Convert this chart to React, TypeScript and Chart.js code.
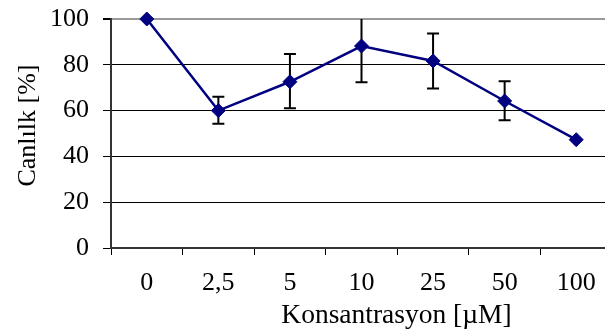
import React, { useEffect, useRef } from "react";
import { Chart, registerables } from "chart.js";

Chart.register(...registerables);

const categories = ["0", "2,5", "5", "10", "25", "50", "100"];
const viability = [100, 60, 72.6, 88.2, 81.7, 64.2, 47.3];
const errLow = [100, 54.3, 61, 72.4, 69.7, 55.8, 46.6];
const errHigh = [100, 66, 84.7, 103, 93.7, 72.8, 48];
const yTicks = [0, 20, 40, 60, 80, 100];
const xTitle = "Konsantrasyon [µM]";
const yTitle = "Canlılk [%]";

const FONT = "Liberation Serif";
Chart.defaults.font.family = FONT;

const errorBars = {
  id: "errorBars",
  beforeDatasetsDraw(chart: any) {
    const { ctx, chartArea, scales } = chart;
    const xs = scales.x;
    const ys = scales.y;
    ctx.save();
    ctx.beginPath();
    ctx.rect(chartArea.left, chartArea.top, chartArea.right - chartArea.left, chartArea.bottom - chartArea.top);
    ctx.clip();
    ctx.strokeStyle = "#000";
    ctx.lineWidth = 2;
    const cap = 6;
    for (let i = 0; i < categories.length; i++) {
      if (errHigh[i] - errLow[i] < 2) continue;
      const x = xs.getPixelForValue(i);
      const yt = ys.getPixelForValue(errHigh[i]);
      const yb = ys.getPixelForValue(errLow[i]);
      ctx.beginPath();
      ctx.moveTo(x, yt);
      ctx.lineTo(x, yb);
      ctx.moveTo(x - cap, yt);
      ctx.lineTo(x + cap, yt);
      ctx.moveTo(x - cap, yb);
      ctx.lineTo(x + cap, yb);
      ctx.stroke();
    }
    ctx.restore();
  },
};

const axisTitles = {
  id: "axisTitles",
  afterDraw(chart: any) {
    const { ctx, chartArea } = chart;
    ctx.save();
    ctx.fillStyle = "#000";
    ctx.textAlign = "center";
    ctx.textBaseline = "middle";
    ctx.font = `27.5px ${FONT}`;
    ctx.fillText(xTitle, (chartArea.left + chartArea.right) / 2 + 35, 316);
    ctx.translate(28, (chartArea.top + chartArea.bottom) / 2 - 8);
    ctx.rotate(-Math.PI / 2);
    ctx.font = `26px ${FONT}`;
    ctx.fillText(yTitle, 0, 0);
    ctx.restore();
  },
};

export default function App() {
  const ref = useRef<HTMLCanvasElement | null>(null);
  useEffect(() => {
    if (!ref.current) return;
    const chart = new Chart(ref.current, {
      type: "line",
      data: {
        labels: categories,
        datasets: [
          {
            data: viability,
            borderColor: "#000080",
            backgroundColor: "#000080",
            borderWidth: 2.5,
            pointStyle: "rectRot",
            pointRadius: 7,
            pointBorderWidth: 1,
            pointBorderColor: "#000080",
            pointBackgroundColor: "#000080",
            tension: 0,
            clip: false as any,
          },
        ],
      },
      options: {
        animation: false,
        responsive: false,
        maintainAspectRatio: false,
        layout: { padding: { top: 19, right: 6, left: 0, bottom: 0 } },
        plugins: { legend: { display: false }, tooltip: { enabled: false } },
        scales: {
          x: {
            type: "category",
            offset: true,
            grid: {
              display: true,
              drawOnChartArea: false,
              offset: true,
              tickLength: 7,
              color: "#000",
              lineWidth: 1,
            },
            border: { display: true, color: "#333", width: 2 },
            ticks: {
              color: "#000",
              font: { family: FONT, size: 26 },
              padding: 13,
              maxRotation: 0,
              autoSkip: false,
            },
            afterFit(scale: any) {
              scale.height = 88;
              scale.paddingLeft = 0;
              scale.paddingRight = 0;
            },
          },
          y: {
            min: 0,
            max: 100,
            afterBuildTicks(scale: any) {
              scale.ticks = yTicks.map((v) => ({ value: v }));
            },
            grid: {
              color: (c: any) => (c.tick && c.tick.value === 100 ? "#999" : "#000"),
              lineWidth: (c: any) => (c.tick && c.tick.value === 100 ? 2 : 1),
              tickLength: 8,
              tickColor: "#000",
            },
            border: { display: true, color: "#333", width: 2 },
            ticks: {
              color: "#000",
              font: { family: FONT, size: 26 },
              padding: 14,
            },
            afterFit(scale: any) {
              scale.width = 111;
              scale.paddingTop = 0;
              scale.paddingBottom = 0;
            },
          },
        },
      },
      plugins: [errorBars, axisTitles],
    });
    return () => chart.destroy();
  }, []);
  return (
    <div style={{ position: "absolute", left: 0, top: 0, width: 605, height: 336, overflow: "hidden", background: "#fff" }}>
      <canvas ref={ref} width={620} height={336} style={{ display: "block", width: 620, height: 336 }} />
    </div>
  );
}
